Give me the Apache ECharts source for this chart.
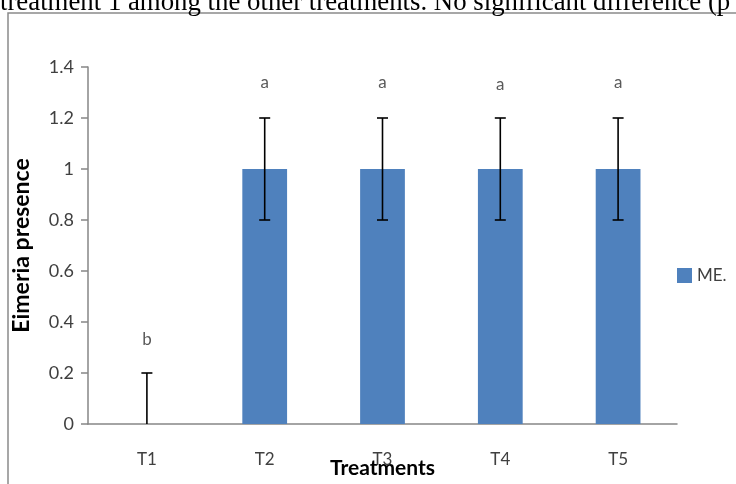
<!DOCTYPE html>
<html>
<head>
<meta charset="utf-8">
<script src="https://cdn.jsdelivr.net/npm/echarts@6/dist/echarts.min.js"></script>
<style>html,body{margin:0;padding:0;background:#fff;}#c{width:736px;height:484px;}</style>
</head>
<body>
<div id="c"></div>
<script>
var categories = ['T1', 'T2', 'T3', 'T4', 'T5'];
var means = [0, 1, 1, 1, 1];
var errors = [0.2, 0.2, 0.2, 0.2, 0.2];
var letters = ['b', 'a', 'a', 'a', 'a'];
var letterPos = [0.33, 1.34, 1.34, 1.33, 1.34];
var seriesName = 'ME.';
var yTicks = { min: 0, max: 1.4, interval: 0.2 };

var chart = echarts.init(document.getElementById('c'), null, { renderer: 'canvas' });
var font = 'Lato';
var option = {
  animation: false,
  backgroundColor: '#ffffff',
  graphic: [
    { type: 'rect', shape: { x: 8, y: 13, width: 760, height: 500 }, style: { fill: 'none', stroke: '#8a8a8a', lineWidth: 1.5 }, z: 0 },
    { type: 'text', left: 0, top: -11, style: { text: 'treatment 1 among the other treatments. No significant difference (p', font: '26.8px "Liberation Serif"', fill: '#000' }, z: 10 }
  ],
  grid: { left: 88, right: 59, top: 67, bottom: 60, containLabel: false, outerBoundsMode: 'none' },
  legend: {
    data: [seriesName], left: 677, top: 267, orient: 'vertical', padding: 0,
    itemWidth: 15, itemHeight: 15, itemGap: 5,
    icon: 'rect',
    textStyle: { fontFamily: font, fontSize: 17, color: '#404040' }
  },
  xAxis: {
    type: 'category', data: categories,
    name: 'Treatments', nameLocation: 'middle', nameGap: 34, nameMoveOverlap: false,
    nameTextStyle: { fontFamily: font, fontWeight: 'bold', fontSize: 21, color: '#000' },
    axisLine: { lineStyle: { color: '#868686', width: 1.5 } },
    axisTick: { show: false },
    axisLabel: { fontFamily: font, fontSize: 17, color: '#404040', margin: 27 }
  },
  yAxis: {
    type: 'value', min: yTicks.min, max: yTicks.max, interval: yTicks.interval,
    name: 'Eimeria presence', nameLocation: 'middle', nameGap: 55, nameRotate: 90, nameMoveOverlap: false,
    nameTextStyle: { fontFamily: font, fontWeight: 'bold', fontSize: 23, color: '#000' },
    axisLine: { show: true, lineStyle: { color: '#868686', width: 1.5 } },
    axisTick: { show: true, length: 7, lineStyle: { color: '#868686', width: 1.5 } },
    splitLine: { show: false },
    axisLabel: { fontFamily: font, fontSize: 18, color: '#404040', margin: 14 }
  },
  series: [
    {
      name: seriesName, type: 'bar', data: means, barWidth: '38%',
      itemStyle: { color: '#4F81BD' }, z: 2
    },
    {
      type: 'custom', name: 'err', z: 5, silent: true,
      data: means.map(function (m, i) { return [i, m, errors[i]]; }),
      renderItem: function (params, api) {
        var x = api.value(0), m = api.value(1), e = api.value(2);
        var lo = Math.max(m - e, yTicks.min);
        var hi = m + e;
        var p1 = api.coord([x, lo]);
        var p2 = api.coord([x, hi]);
        var cap = 5.5;
        var st = { stroke: '#000', lineWidth: 1.6 };
        return {
          type: 'group', children: [
            { type: 'line', shape: { x1: p1[0], y1: p1[1], x2: p2[0], y2: p2[1] }, style: st },
            { type: 'line', shape: { x1: p2[0] - cap, y1: p2[1], x2: p2[0] + cap, y2: p2[1] }, style: st },
            (m - e >= yTicks.min) ? { type: 'line', shape: { x1: p1[0] - cap, y1: p1[1], x2: p1[0] + cap, y2: p1[1] }, style: st } : { type: 'group' }
          ]
        };
      }
    },
    {
      type: 'scatter', name: 'letters', silent: true, symbolSize: 0,
      data: letterPos.map(function (v, i) { return { value: [i, v], label: { formatter: letters[i] } }; }),
      label: { show: true, position: 'inside', fontFamily: font, fontSize: 17, color: '#303030' }
    }
  ]
};
chart.setOption(option);
</script>
</body>
</html>
